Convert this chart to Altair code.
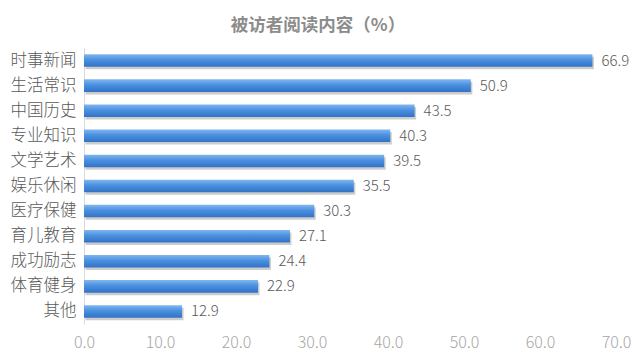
import altair as alt
import pandas as pd

categories = ["时事新闻", "生活常识", "中国历史", "专业知识", "文学艺术", "娱乐休闲",
              "医疗保健", "育儿教育", "成功励志", "体育健身", "其他"]
values = [66.9, 50.9, 43.5, 40.3, 39.5, 35.5, 30.3, 27.1, 24.4, 22.9, 12.9]
x_ticks = [0, 10, 20, 30, 40, 50, 60, 70]

df = pd.DataFrame({"cat": categories, "val": values})
df["lbl"] = [f"{v:.1f}" for v in values]

FONT = "Noto Sans CJK SC"

x_enc = alt.X("val:Q", scale=alt.Scale(domain=[0, 70], nice=False),
              axis=alt.Axis(values=x_ticks, format=".1f", grid=False, domain=False,
                            ticks=False, labelFont=FONT, labelFontSize=16, labelFontWeight=300,
                            labelColor="#a6a6a6", labelPadding=10, labelFlush=False, title=None))
y_enc = alt.Y("cat:N", sort=categories,
              scale=alt.Scale(paddingInner=0.5, paddingOuter=0.25),
              axis=alt.Axis(domain=True, domainColor="#d9d9d9", ticks=False,
                            labelFont=FONT, labelFontSize=16.5, labelFontWeight=300,
                            labelColor="#595959", labelPadding=8, title=None))

base = alt.Chart(df)

shadow = base.mark_bar(color="#000000", opacity=0.2, yOffset=2.5, xOffset=1.5).encode(
    x=x_enc, y=y_enc)

bars = base.mark_bar(
    color=alt.Gradient(
        gradient="linear", x1=0, x2=0, y1=0, y2=1,
        stops=[alt.GradientStop(offset=0, color="#80b6ee"),
               alt.GradientStop(offset=0.45, color="#4a90e0"),
               alt.GradientStop(offset=1, color="#3272c6")])
).encode(x=x_enc, y=y_enc)

text = base.mark_text(align="left", dx=9, font=FONT, fontSize=15, fontWeight=300,
                      color="#595959").encode(
    x="val:Q", y=alt.Y("cat:N", sort=categories), text="lbl:N")

chart = alt.layer(shadow, bars, text).properties(
    width=532, height=276,
    autosize=alt.AutoSizeParams(type="none"),
    padding={"left": 76, "top": 40, "right": 16, "bottom": 29},
    title=alt.TitleParams("被访者阅读内容（%）", font=FONT, fontSize=17.5, fontWeight="bold",
                          color="#8c8c8c", anchor="middle", dx=-32, offset=14),
).configure_view(stroke=None)

chart.save("out.html", embed_options={"renderer": "svg", "actions": False})
